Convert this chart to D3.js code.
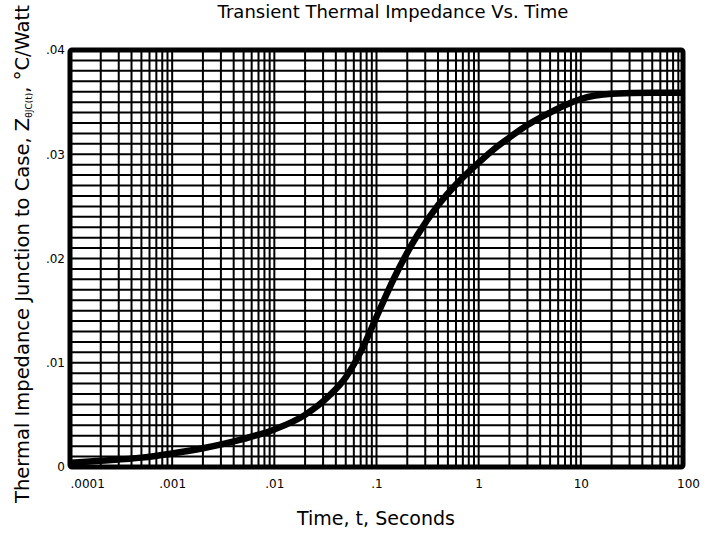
<!DOCTYPE html>
<html>
<head>
<meta charset="utf-8">
<script src="https://cdn.jsdelivr.net/npm/d3@7"></script>
<style>
  body { margin: 0; background: #fff; }
  text { font-family: "DejaVu Sans", sans-serif; fill: #000; }
</style>
</head>
<body>
<div id="chart"></div>
<script>
const width = 713;
const height = 533;

// time (s) and Z(t)
const times = [0.0001, 0.0002, 0.0005, 0.001, 0.002, 0.005, 0.01, 0.02, 0.035, 0.05, 0.073, 0.1,
    0.15, 0.25, 0.4, 0.6, 1, 1.5, 2, 3, 5, 7, 10, 20, 50, 100];
const impedance = [0.0004, 0.0006, 0.0009, 0.0013, 0.0018, 0.0027, 0.0036, 0.0050, 0.0069, 0.0086, 0.0114, 0.0144,
    0.0182, 0.0222, 0.0251, 0.0271, 0.0292, 0.0307, 0.0316, 0.0328, 0.0340, 0.0347, 0.0353, 0.0358, 0.0359, 0.0359];

const xTicks = [0.0001, 0.001, 0.01, 0.1, 1, 10, 100];
const xTickLabels = [".0001", ".001", ".01", ".1", "1", "10", "100"];
const yTicks = [0, 0.01, 0.02, 0.03, 0.04];
const yTickLabels = ["0", ".01", ".02", ".03", ".04"];

const margin = { left: 70, right: 30, top: 50, bottom: 66 };

const x = d3.scaleLog()
    .domain([0.0001, 100])
    .range([margin.left, width - margin.right]);
const y = d3.scaleLinear()
    .domain([0, 0.04])
    .range([height - margin.bottom, margin.top]);

const svg = d3.select("#chart")
    .append("svg")
    .attr("width", width)
    .attr("height", height);

// grid
const grid = svg.append("g")
    .attr("stroke", "#000")
    .attr("stroke-width", 2);

grid.selectAll("line.v")
    .data(x.ticks())
    .join("line")
    .attr("class", "v")
    .attr("x1", d => x(d)).attr("x2", d => x(d))
    .attr("y1", y(0)).attr("y2", y(0.04));

grid.selectAll("line.h")
    .data(y.ticks(40))
    .join("line")
    .attr("class", "h")
    .attr("x1", x(0.0001)).attr("x2", x(100))
    .attr("y1", d => y(d)).attr("y2", d => y(d));

// curve
const line = d3.line()
    .curve(d3.curveMonotoneX)
    .x((d, i) => x(times[i]))
    .y(d => y(d));

svg.append("path")
    .datum(impedance)
    .attr("fill", "none")
    .attr("stroke", "#000")
    .attr("stroke-width", 6.5)
    .attr("stroke-linejoin", "round")
    .attr("d", line);

// frame
svg.append("rect")
    .attr("x", x(0.0001))
    .attr("y", y(0.04))
    .attr("width", x(100) - x(0.0001))
    .attr("height", y(0) - y(0.04))
    .attr("fill", "none")
    .attr("stroke", "#000")
    .attr("stroke-width", 5)
    .attr("rx", 2);

// axes
const xAxis = svg.append("g")
    .attr("transform", `translate(0,${y(0)})`)
    .call(d3.axisBottom(x)
        .tickValues(xTicks)
        .tickFormat((d, i) => xTickLabels[i])
        .tickSize(0)
        .tickPadding(12));
xAxis.select(".domain").remove();
xAxis.selectAll("text")
    .attr("font-size", 12)
    .attr("font-family", "DejaVu Sans")
    .attr("text-anchor", (d, i) => i === 0 ? "start" : "middle")
    .attr("dx", (d, i) => i === xTicks.length - 1 ? 5 : 0);

const yAxis = svg.append("g")
    .attr("transform", `translate(${x(0.0001)},0)`)
    .call(d3.axisLeft(y)
        .tickValues(yTicks)
        .tickFormat((d, i) => yTickLabels[i])
        .tickSize(0)
        .tickPadding(5));
yAxis.select(".domain").remove();
yAxis.selectAll("text")
    .attr("font-size", 12)
    .attr("font-family", "DejaVu Sans");

// titles
svg.append("text")
    .attr("x", 393)
    .attr("y", 18)
    .attr("text-anchor", "middle")
    .attr("font-size", 18)
    .text("Transient Thermal Impedance Vs. Time");

svg.append("text")
    .attr("x", 376)
    .attr("y", 525)
    .attr("text-anchor", "middle")
    .attr("font-size", 19)
    .text("Time, t, Seconds");

const ylab = svg.append("text")
    .attr("transform", "translate(29,503) rotate(-90)")
    .attr("font-size", 19.5);
ylab.append("tspan").text("Thermal Impedance Junction to Case, Z");
ylab.append("tspan")
    .attr("font-size", 9)
    .attr("dy", 3)
    .text("θJC(t)");
ylab.append("tspan")
    .attr("dy", -3)
    .text(", °C/Watt");
</script>
</body>
</html>
